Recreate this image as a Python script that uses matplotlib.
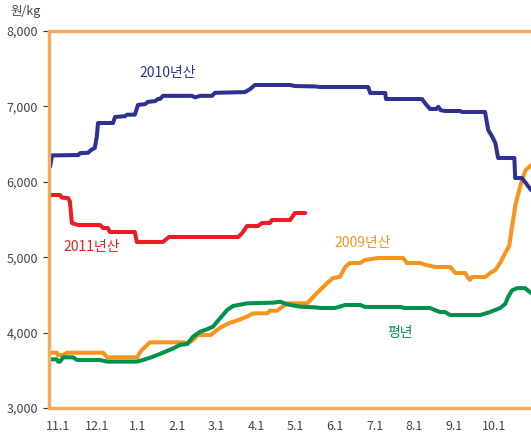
import matplotlib
matplotlib.use("Agg")
import matplotlib.pyplot as plt

plt.rcParams["font.family"] = ["Noto Sans CJK KR", "DejaVu Sans"]

# x = months since 11.1 (0 = 11.1, 1 = 12.1, ...), y = won/kg
month_labels = ["11.1", "12.1", "1.1", "2.1", "3.1", "4.1", "5.1", "6.1", "7.1", "8.1", "9.1", "10.1"]

crop2010_x = [-0.20, -0.15, 0.51, 0.56, 0.76, 0.83, 0.93, 0.98, 1.01, 1.39, 1.44, 1.69, 1.74, 1.94,
              2.02, 2.20, 2.27, 2.45, 2.53, 2.58, 2.65, 3.38, 3.46, 3.59, 3.89, 3.96, 4.72, 4.85,
              4.97, 5.86, 5.98, 6.49, 6.62, 7.83, 7.88, 8.26, 8.28, 9.19, 9.27, 9.39, 9.55,
              9.60, 9.66, 9.77, 10.15, 10.20, 10.78, 10.86, 10.96, 11.04, 11.11, 11.52, 11.54,
              11.71, 11.79, 11.94]
crop2010_y = [6200, 6350, 6355, 6380, 6385, 6420, 6450, 6600, 6780, 6780, 6860, 6870, 6890, 6890,
              7020, 7030, 7060, 7070, 7100, 7100, 7140, 7140, 7120, 7140, 7140, 7180, 7190, 7230,
              7284, 7284, 7270, 7265, 7257, 7257, 7178, 7178, 7098, 7098, 7040, 6966, 6966,
              6995, 6950, 6939, 6939, 6926, 6926, 6687, 6600, 6515, 6316, 6316, 6050,
              6050, 5997, 5891]

crop2011_x = [-0.20, 0.05, 0.10, 0.25, 0.30, 0.35, 0.43, 0.51, 1.06, 1.14, 1.26, 1.31, 1.94, 1.99,
              2.65, 2.80, 4.55, 4.65, 4.77, 5.05, 5.15, 5.35, 5.40, 5.86, 5.98, 6.24]
crop2011_y = [5825, 5825, 5790, 5785, 5740, 5454, 5440, 5427, 5427, 5387, 5387, 5334, 5334, 5202,
              5202, 5268, 5268, 5320, 5414, 5414, 5454, 5454, 5493, 5493, 5586, 5586]

crop2009_x = [-0.20, -0.03, 0.00, 0.13, 0.23, 1.14, 1.24, 2.00, 2.10, 2.25, 2.32, 3.17, 3.28, 3.41,
              3.53, 3.86, 4.01, 4.14, 4.34, 4.60, 4.80, 4.93, 5.28, 5.35, 5.53, 5.61, 5.78, 6.29,
              6.49, 6.74, 6.94, 7.12, 7.25, 7.37, 7.63, 7.75, 8.08, 8.71, 8.81, 9.14, 9.27, 9.52,
              9.90, 10.03, 10.28, 10.35, 10.40, 10.45, 10.78, 10.91, 11.04, 11.16, 11.29, 11.39,
              11.46, 11.55, 11.69, 11.80, 11.94]
crop2009_y = [3733, 3733, 3703, 3703, 3733, 3733, 3672, 3672, 3760, 3836, 3871, 3871, 3858, 3902,
              3968, 3968, 4034, 4078, 4131, 4175, 4220, 4255, 4255, 4290, 4290, 4322, 4388, 4388,
              4500, 4630, 4724, 4740, 4870, 4923, 4923, 4963, 4990, 4990, 4923, 4923, 4900, 4870,
              4870, 4790, 4790, 4725, 4700, 4737, 4737, 4790, 4830, 4923, 5056, 5150,
              5401, 5700, 5984, 6150, 6220]

normal_x = [-0.20, -0.03, 0.00, 0.05, 0.13, 0.38, 0.48, 1.06, 1.24, 1.99, 2.15, 2.40, 2.65, 2.91,
            3.08, 3.26, 3.41, 3.59, 3.76, 3.91, 4.09, 4.27, 4.42, 4.77, 5.43, 5.61, 5.78, 6.11,
            6.49, 6.62, 6.99, 7.25, 7.63, 7.75, 8.64, 8.76, 9.39, 9.64, 9.77, 9.90, 10.66, 10.91,
            11.16, 11.29, 11.36, 11.46, 11.59, 11.79, 11.94]
normal_y = [3646, 3646, 3615, 3615, 3672, 3672, 3637, 3637, 3615, 3615, 3637, 3681, 3733, 3791,
            3836, 3849, 3946, 4012, 4044, 4078, 4189, 4300, 4353, 4388, 4397, 4410, 4375, 4344,
            4335, 4326, 4326, 4366, 4366, 4340, 4340, 4326, 4326, 4273, 4273, 4233, 4233, 4273,
            4326, 4380, 4470, 4560, 4590, 4590, 4525]

y_ticks = [3000, 4000, 5000, 6000, 7000, 8000]

NAVY = "#2e3192"
RED = "#ed1c24"
ORANGE = "#f7941d"
GREEN = "#00914c"
FRAME = "#f9a85e"

fig = plt.figure(figsize=(5.31, 4.37), dpi=100)
ax = fig.add_axes([49 / 531, 29 / 437, 482 / 531, 377 / 437])

kw = dict(linewidth=2.9, solid_joinstyle="round", solid_capstyle="round")
ax.plot(crop2009_x, crop2009_y, color=ORANGE, **kw)
ax.plot(normal_x, normal_y, color=GREEN, **kw)
ax.plot(crop2011_x, crop2011_y, color=RED, **kw)
ax.plot(crop2010_x, crop2010_y, color=NAVY, **kw)

ax.set_xlim(-0.227, 11.94)
ax.set_ylim(3000, 8000)

ax.set_xticks(range(len(month_labels)))
ax.set_xticklabels(month_labels)
ax.set_yticks(y_ticks)
ax.set_yticklabels([f"{v:,}" for v in y_ticks])
ax.tick_params(axis="x", length=0, pad=9, labelsize=9, labelcolor="#444444")
ax.tick_params(axis="y", length=4, width=0.8, pad=4, labelsize=9, labelcolor="#444444", color="#333333")

for side in ["left", "top", "bottom"]:
    ax.spines[side].set_color(FRAME)
    ax.spines[side].set_linewidth(2.4)
ax.spines["right"].set_visible(False)

ax.text(2.78, 7443, "2010년산", color=NAVY, fontsize=10, ha="center", va="center")
ax.text(0.86, 5135, "2011년산", color=RED, fontsize=10, ha="center", va="center")
ax.text(7.68, 5188, "2009년산", color=ORANGE, fontsize=10, ha="center", va="center")
ax.text(8.64, 3995, "평년", color=GREEN, fontsize=10, ha="center", va="center")

fig.text(26 / 531, 1 - 12 / 437, "원/kg", color="#444444", fontsize=9, ha="center", va="center")

fig.savefig("out.png", dpi=100)
